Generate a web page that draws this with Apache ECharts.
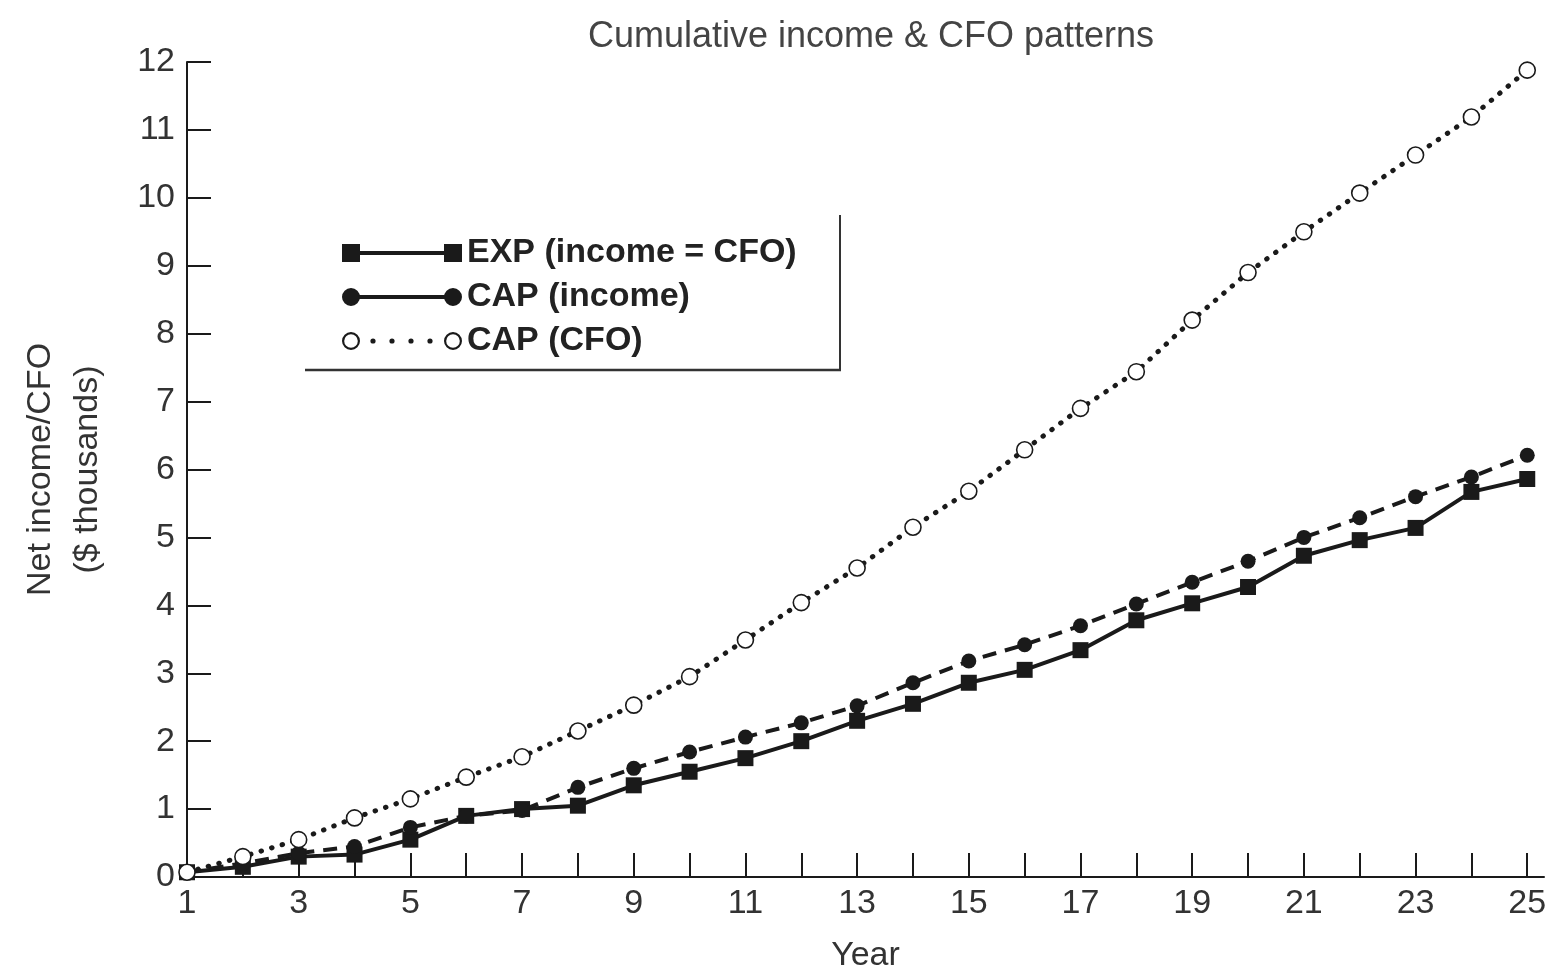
<!DOCTYPE html>
<html>
<head>
<meta charset="utf-8">
<script src="https://cdn.jsdelivr.net/npm/echarts@6/dist/echarts.min.js"></script>
<style>
html,body{margin:0;padding:0;background:#fff;}
#chart{width:1554px;height:980px;}
</style>
</head>
<body>
<div id="chart"></div>
<script>
const years = [1,2,3,4,5,6,7,8,9,10,11,12,13,14,15,16,17,18,19,20,21,22,23,24,25];
const expIncome = [0.07,0.15,0.3,0.33,0.55,0.9,1.0,1.05,1.35,1.55,1.75,2.0,2.3,2.55,2.86,3.05,3.34,3.78,4.03,4.27,4.73,4.96,5.14,5.67,5.86];
const capIncome = [0.07,0.2,0.35,0.45,0.73,0.9,0.98,1.32,1.6,1.84,2.06,2.27,2.52,2.86,3.18,3.42,3.7,4.02,4.34,4.65,5.0,5.29,5.6,5.89,6.21];
const capCFO = [0.07,0.3,0.55,0.87,1.15,1.47,1.77,2.15,2.53,2.95,3.49,4.04,4.55,5.15,5.68,6.29,6.9,7.44,8.2,8.9,9.5,10.07,10.63,11.19,11.88];
const seriesNames = ['EXP (income = CFO)','CAP (income)','CAP (CFO)'];
const titleText = 'Cumulative income & CFO patterns';
const xName = 'Year';
const yName = 'Net income/CFO\n($ thousands)';

const pair = arr => years.map((y,i)=>[y,arr[i]]);
const ink = '#1a1a1a';
const grey = '#333';
const font = 'Liberation Sans, Arial, sans-serif';

// legend icons: line with a marker at each end (120 x 18 box)
const circ = (cx,cy,r,sweep) => `M${cx-r},${cy} A${r},${r} 0 1,${sweep} ${cx+r},${cy} A${r},${r} 0 1,${sweep} ${cx-r},${cy} Z `;
const iconExp = 'path://M0,0 H18 V18 H0 Z M102,0 H120 V18 H102 Z M18,7 H102 V11 H18 Z';
const iconCapInc = 'path://' + circ(9,9,9,1) + circ(111,9,9,1) + 'M16,7 H104 V11 H16 Z';
const iconCapCfo = 'path://' + circ(9,9,9,1) + circ(9,9,6.8,0) + circ(111,9,9,1) + circ(111,9,6.8,0)
  + circ(31,9,2.6,1) + circ(50,9,2.6,1) + circ(69,9,2.6,1) + circ(88,9,2.6,1);

const chart = echarts.init(document.getElementById('chart'));
chart.setOption({
  backgroundColor:'#fff',
  animation:false,
  title:{text:titleText,left:866,top:14,textAlign:'center',
    textStyle:{fontFamily:font,fontSize:36,fontWeight:'normal',color:'#444'}},
  grid:{left:187,right:10,top:62,bottom:103,containLabel:false},
  legend:{
    orient:'vertical',left:337,top:231,itemWidth:120,itemHeight:18,itemGap:10,
    textStyle:{fontFamily:font,fontSize:34,fontWeight:'bold',color:'#222'},
    data:[
      {name:seriesNames[0],icon:iconExp,itemStyle:{color:ink,borderWidth:0}},
      {name:seriesNames[1],icon:iconCapInc,itemStyle:{color:ink,borderWidth:0}},
      {name:seriesNames[2],icon:iconCapCfo,itemStyle:{color:ink,borderWidth:0}}
    ]
  },
  xAxis:{type:'value',min:1,max:25.3,interval:1,
    name:xName,nameLocation:'middle',nameGap:62,
    nameTextStyle:{fontFamily:font,fontSize:34,color:grey},
    axisLine:{lineStyle:{color:ink,width:2}},
    axisTick:{inside:true,length:24,lineStyle:{color:ink,width:2}},
    axisLabel:{fontFamily:font,fontSize:34,color:grey,margin:10,showMaxLabel:false,
      formatter:v=>(Number.isInteger(v)&&v%2===1)?String(v):''},
    splitLine:{show:false}},
  yAxis:{type:'value',min:0,max:12,interval:1,
    name:yName,nameLocation:'middle',nameGap:76,nameRotate:90,
    nameTextStyle:{fontFamily:font,fontSize:34,color:grey,lineHeight:47},
    axisLine:{show:true,lineStyle:{color:ink,width:2}},
    axisTick:{show:true,inside:true,length:24,lineStyle:{color:ink,width:2}},
    axisLabel:{fontFamily:font,fontSize:34,color:grey,margin:12},
    splitLine:{show:false}},
  graphic:[
    {type:'line',shape:{x1:840,y1:215,x2:840,y2:370},style:{stroke:'#333',lineWidth:2}},
    {type:'line',shape:{x1:305,y1:370,x2:841,y2:370},style:{stroke:'#333',lineWidth:2.5}}
  ],
  series:[
    {name:seriesNames[0],type:'line',data:pair(expIncome),symbol:'rect',symbolSize:16,
     itemStyle:{color:ink},lineStyle:{color:ink,width:4,type:'solid'},z:3},
    {name:seriesNames[1],type:'line',data:pair(capIncome),symbol:'circle',symbolSize:15,
     itemStyle:{color:ink},lineStyle:{color:ink,width:4,type:[14,9]},z:4},
    {name:seriesNames[2],type:'line',data:pair(capCFO),symbol:'circle',symbolSize:16,
     itemStyle:{color:'#fff',borderColor:ink,borderWidth:1.6},
     lineStyle:{color:ink,width:5,type:[0.5,10.5],cap:'round'},z:5}
  ]
});
</script>
</body>
</html>
